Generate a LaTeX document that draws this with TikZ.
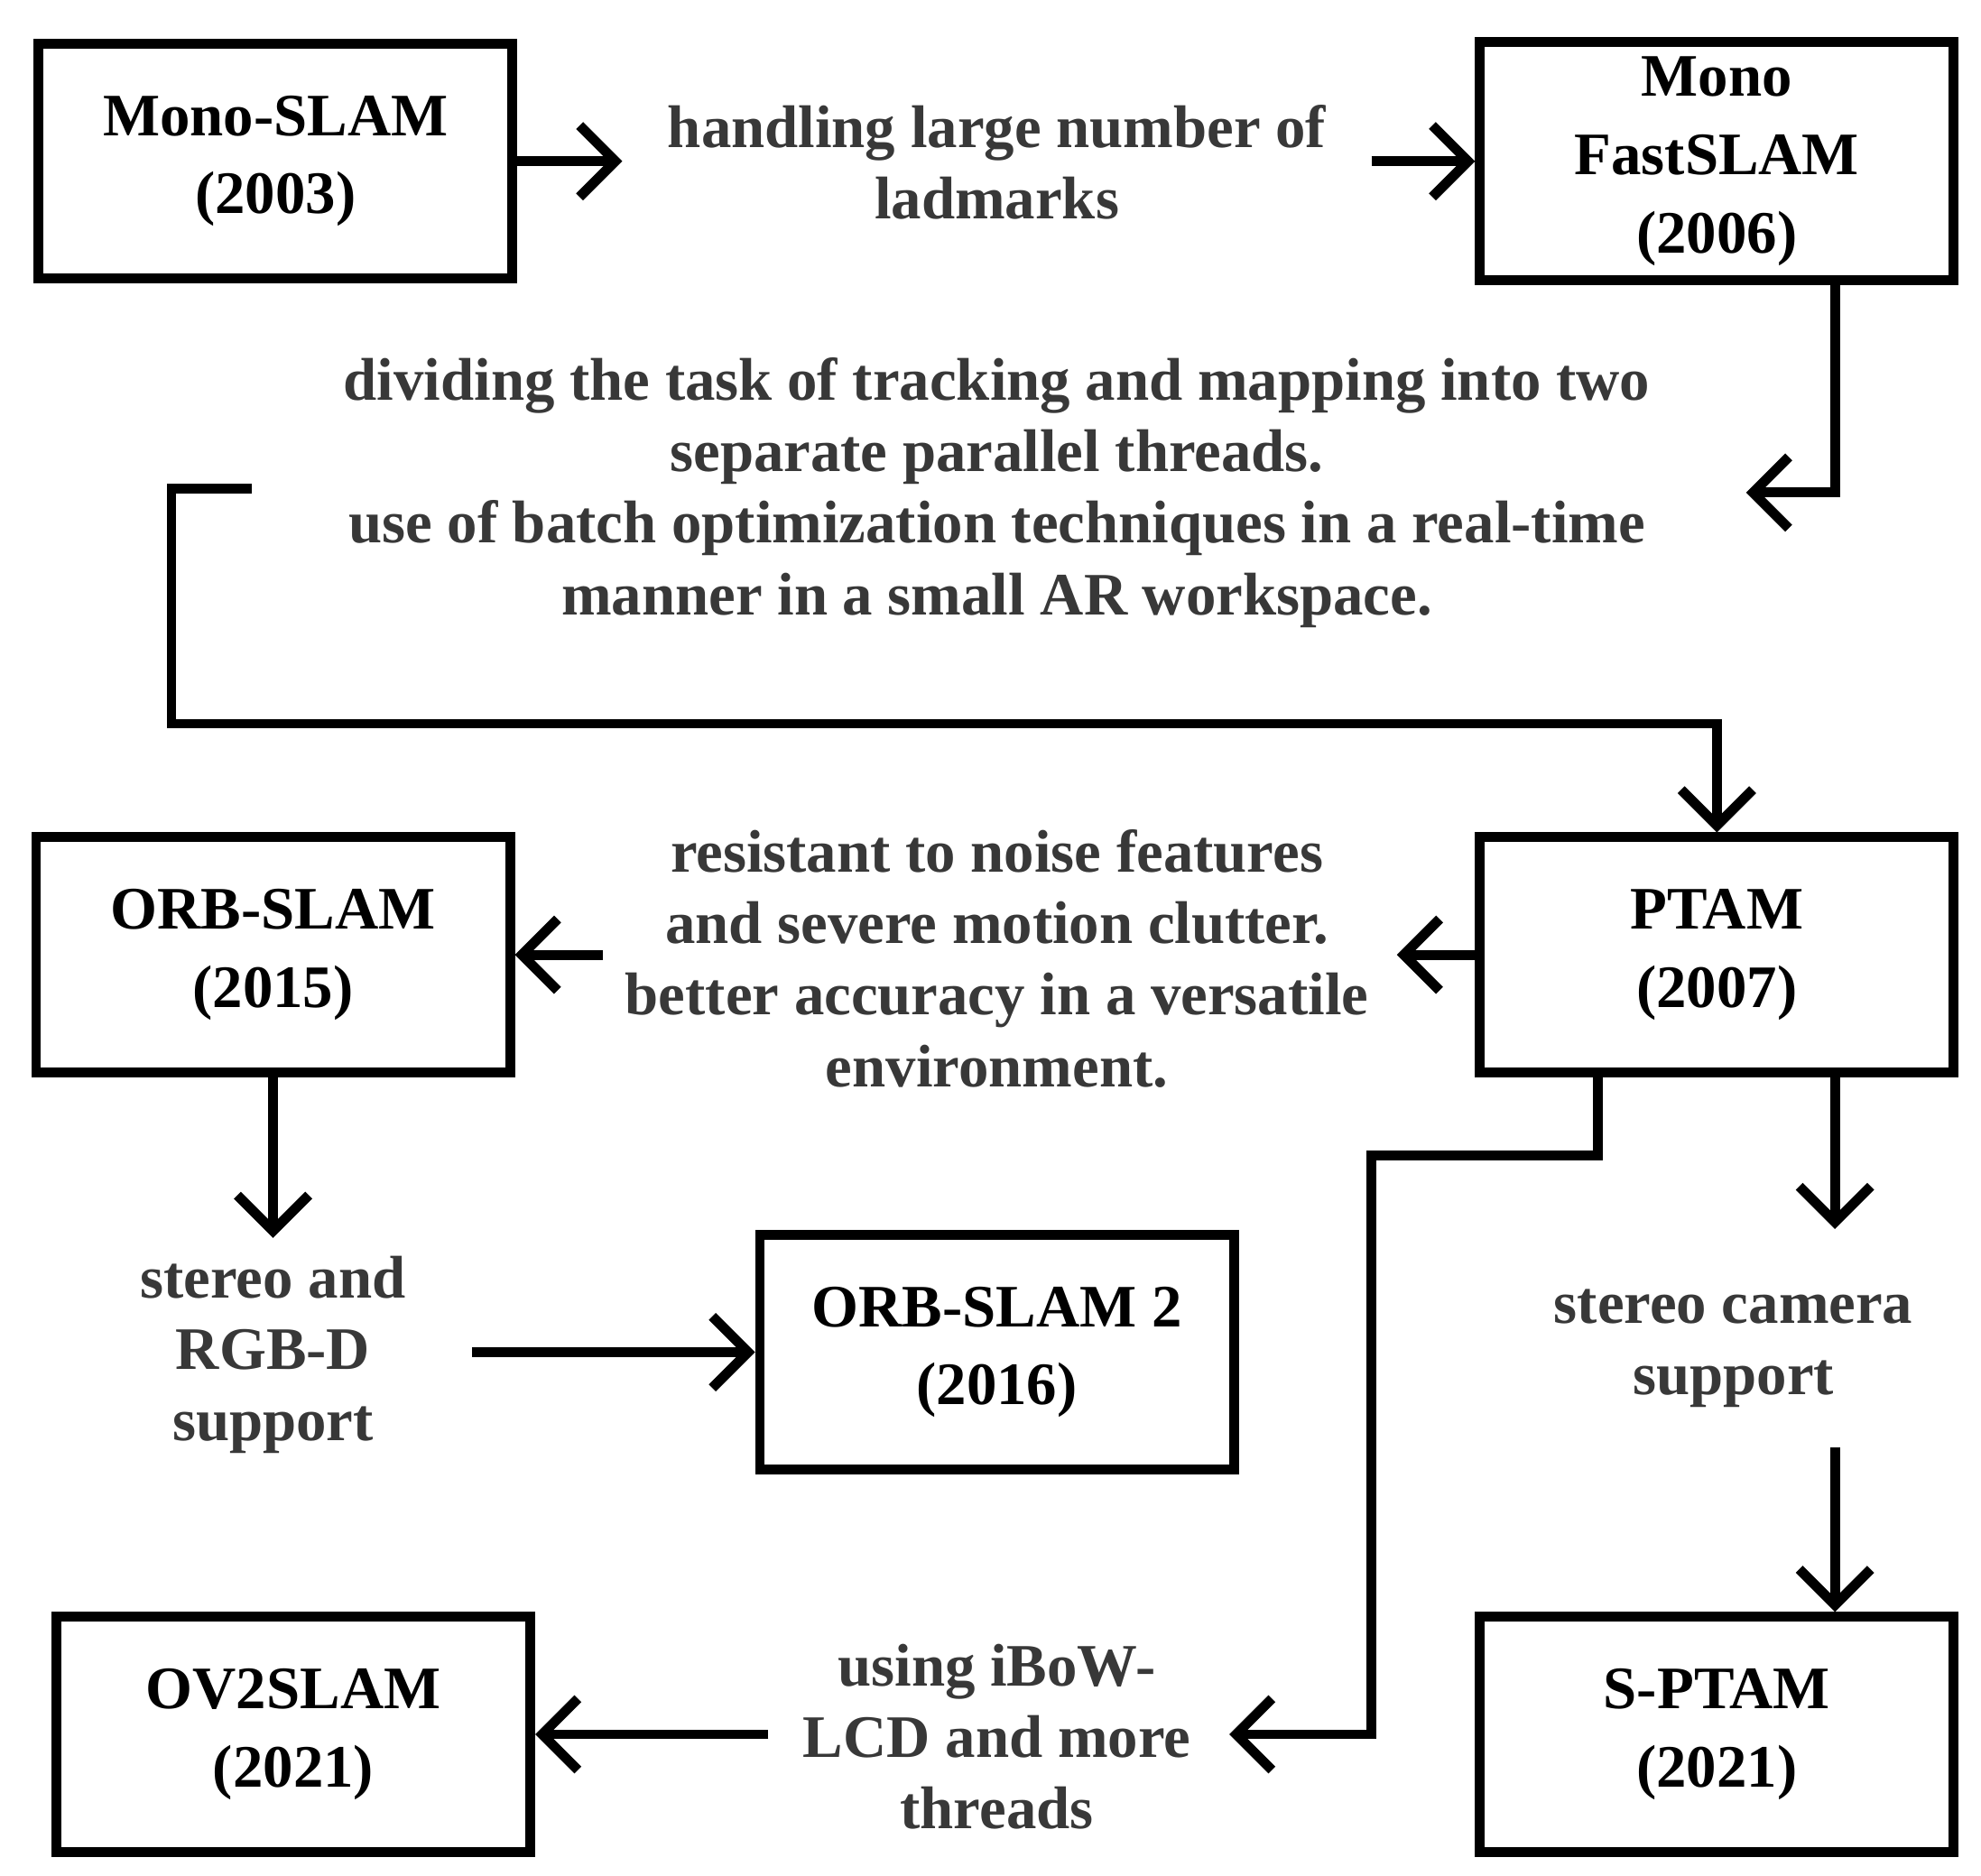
\documentclass[tikz,border=0pt]{standalone}
\usepackage{fontspec}
\setmainfont{Liberation Serif}
\usetikzlibrary{arrows.meta,calc}

\tikzset{
  box/.style={draw,line width=2.2pt,minimum width=3.73cm,minimum height=1.85cm,align=center,font=\fontsize{13.5}{17.5}\selectfont\bfseries},
  lbl/.style={align=center,text=black!78,font=\fontsize{13.5}{16}\selectfont\bfseries},
  arr/.style={line width=2.2pt,-{Straight Barb[length=8pt,width=16pt,line width=2.2pt]}},
  ln/.style={line width=2.2pt}
}

\begin{document}
\begin{tikzpicture}[x=0.01cm,y=-0.01cm]
  \useasboundingbox (0,0) rectangle (1560,1477);

  \node[box] (mono) at (217,127) {Mono-SLAM\\(2003)};
  \node[box] (fast) at (1352,127) {Mono\\FastSLAM\\(2006)};
  \node[box] (ptam) at (1352,752) {PTAM\\(2007)};
  \node[box] (orb) at (215,752) {ORB-SLAM\\(2015)};
  \node[box] (orb2) at (785,1065) {ORB-SLAM 2\\(2016)};
  \node[box] (ov2) at (231,1366) {OV2SLAM\\(2021)};
  \node[box] (sptam) at (1352,1366) {S-PTAM\\(2021)};

  \node[lbl] (t1) at (785,128) {handling large number of\\ladmarks};
  \node[lbl] (t2) at (785,388) {dividing the task of tracking and mapping into two\\separate parallel threads.\\use of batch optimization techniques in a real-time\\manner in a small AR workspace.};
  \node[lbl] (t3) at (785,755) {resistant to noise features\\and severe motion clutter.\\better accuracy in a versatile\\environment.};
  \node[lbl] (t4) at (215,1067) {stereo and\\RGB-D\\support};
  \node[lbl] (t5) at (1365,1062) {stereo camera\\support};
  \node[lbl] (t6) at (785,1368) {using iBoW-\\LCD and more\\threads};

  \coordinate (a1) at (490,127);
  \coordinate (a2) at (1080,127);
  \draw[arr] (mono.east) -- (a1);
  \draw[arr] (a2) -- (fast.west);

  \coordinate (b1) at (1375,388);
  \draw[arr] (fast.south -| 1445,0) |- (b1);

  \coordinate (c1) at (198,385);
  \coordinate (c2) at (135,570);
  \draw[arr] (c1) -- (135,385) -- (c2) -| (ptam.north);

  \coordinate (d1) at (1100,752);
  \coordinate (d2) at (475,752);
  \draw[arr] (ptam.west) -- (d1);
  \draw[arr] (d2) -- (orb.east);

  \coordinate (e1) at (215,975);
  \draw[arr] (orb.south) -- (e1);
  \coordinate (e2) at (372,1065);
  \draw[arr] (e2) -- (orb2.west);

  \coordinate (f1) at (968,1366);
  \draw[arr] (ptam.south -| 1258,0) -- (1258,910) -- (1080,910) |- (f1);

  \coordinate (g1) at (1445,968);
  \coordinate (g2) at (1445,1140);
  \draw[arr] (ptam.south -| 1445,0) -- (g1);
  \draw[arr] (g2) -- (sptam.north -| 1445,0);

  \coordinate (h1) at (605,1366);
  \draw[arr] (h1) -- (ov2.east);
\end{tikzpicture}
\end{document}
